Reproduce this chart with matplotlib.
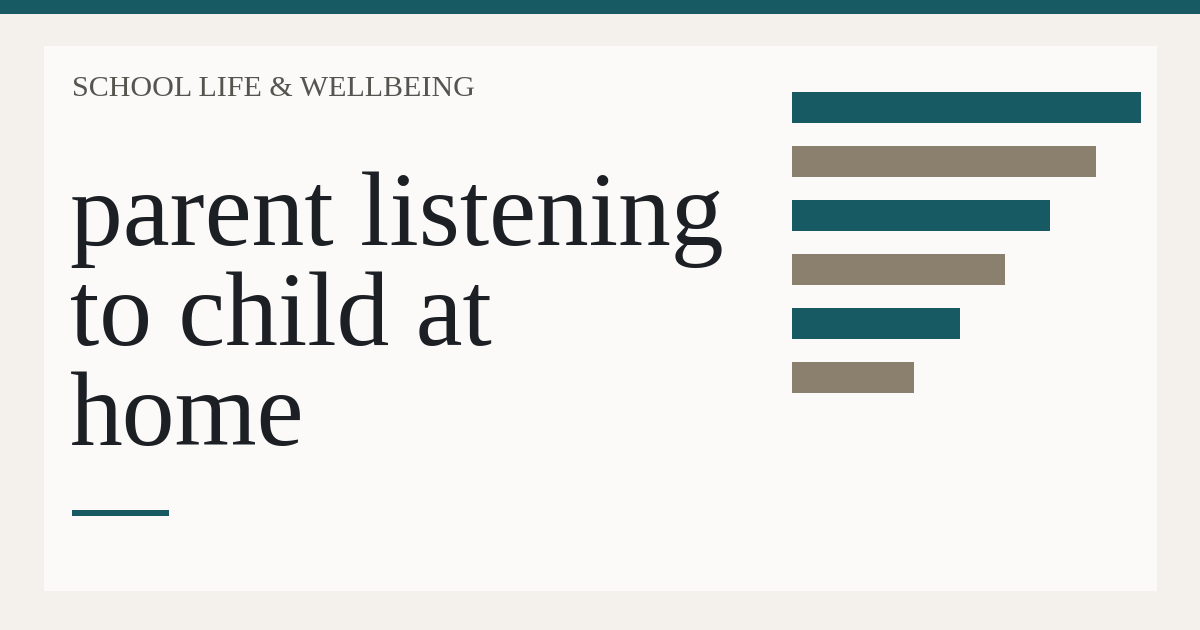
import matplotlib
matplotlib.use('Agg')
import matplotlib.pyplot as plt
from matplotlib.patches import Rectangle

# data
kicker = 'SCHOOL LIFE & WELLBEING'
title_lines = ['parent listening', 'to child at', 'home']
bar_values = [100, 87, 74, 61, 48, 35]
bar_colors = ['#185a63', '#8b806d', '#185a63', '#8b806d', '#185a63', '#8b806d']

W, H = 1200, 630
fig = plt.figure(figsize=(12, 6.3), dpi=100)
fig.patch.set_facecolor('#f4f1ec')

# background axes in pixel coords (y down)
bg = fig.add_axes([0, 0, 1, 1])
bg.set_xlim(0, W)
bg.set_ylim(H, 0)
bg.axis('off')
bg.add_patch(Rectangle((0, 0), W, 14, color='#185a63', lw=0))
bg.add_patch(Rectangle((44, 46), 1113, 545, color='#fbfaf9', lw=0))
bg.add_patch(Rectangle((72, 510), 97, 6, color='#185a63', lw=0))

bg.text(72, 96, kicker, fontsize=21.6, family='Liberation Serif',
        color='#55554f', va='baseline', ha='left')
for i, line in enumerate(title_lines):
    bg.text(70, 245 + 100 * i, line, fontsize=76, family='Liberation Serif',
            color='#1c1f24', va='baseline', ha='left')

# bars
top, bottom = 80.5, 404.5
ax = fig.add_axes([792 / W, (H - bottom) / H, 349 / W, (bottom - top) / H])
ax.barh(range(len(bar_values)), bar_values, height=31 / 54, color=bar_colors)
ax.set_xlim(0, 100)
ax.set_ylim(len(bar_values) - 0.5, -0.5)
ax.axis('off')

fig.savefig('out.png', dpi=100, facecolor=fig.get_facecolor())
